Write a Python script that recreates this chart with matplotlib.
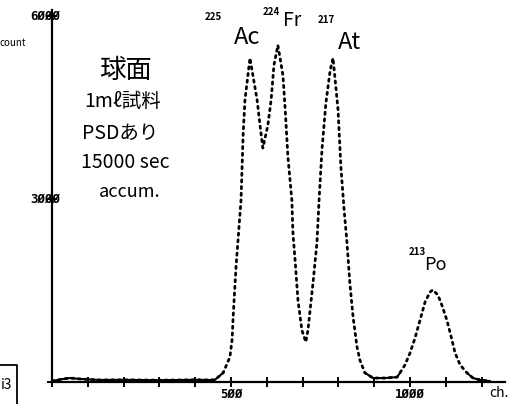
import numpy as np
import matplotlib
matplotlib.use("Agg")
import matplotlib.pyplot as plt

# ---- data (channel, counts) ----
channels = [0, 31, 50, 78, 134, 200, 300, 400, 441, 455, 478, 497, 503, 506, 514, 528, 534,
            539, 553, 573, 581, 589, 603, 612, 620, 631, 645, 651, 659, 670, 673, 679, 687,
            698, 709, 715, 729, 740, 746, 754, 765, 777, 785, 799, 807, 816, 824, 832, 841,
            852, 860, 874, 897, 930, 964, 972, 986, 1000, 1014, 1028, 1042, 1056, 1064, 1078,
            1089, 1103, 1115, 1126, 1140, 1159, 1176, 1196, 1223]
counts = [15, 50, 65, 50, 33, 35, 30, 35, 33, 35, 150, 410, 690, 1065, 1885, 2980, 4080,
          4620, 5310, 4620, 4210, 3835, 4210, 4620, 5195, 5520, 5030, 4505, 3690, 2980, 2440,
          2000, 1345, 850, 655, 850, 1620, 2280, 2980, 3800, 4570, 5110, 5310, 4460, 3520,
          2820, 2280, 1620, 1065, 575, 360, 150, 65, 65, 80, 150, 280, 475, 720, 1015, 1310,
          1475, 1510, 1425, 1260, 1015, 740, 475, 280, 150, 65, 33, 15]

x_tick_values = list(range(0, 1300, 100))
x_labels = {500: "5ØØ", 1000: "1ØØØ"}
y_tick_values = [0, 3000, 6000]
y_labels = {3000: "3ØØØ", 6000: "6ØØØ"}

# element label: (text, channel, counts, fontsize); mass number: (text, channel, counts)
elements = [("Ac", 545, 5640, 17), ("Fr", 670, 5930, 14), ("At", 830, 5570, 17), ("Po", 1070, 1920, 13)]
masses = [("225", 450, 5980), ("224", 612, 6064), ("217", 765, 5933), ("213", 1020, 2130)]
notes = ["球面", "1mℓ試料", "PSDあり", "15000 sec", "accum."]

W, H = 516, 404
fig = plt.figure(figsize=(W / 100, H / 100), dpi=100)
fig.patch.set_facecolor("white")
left_px, right_px, bottom_px, top_px = 52, 505, 382, 10
ax = fig.add_axes([left_px / W, 1 - bottom_px / H, (right_px - left_px) / W,
                   (bottom_px - top_px) / H])
ax.set_xlim(0, (right_px - left_px) / 0.358)
ax.set_ylim(0, (bottom_px - top_px) * 16.39)
ax.patch.set_alpha(0)
for s in ["top", "right"]:
    ax.spines[s].set_visible(False)
for s in ["left", "bottom"]:
    ax.spines[s].set_linewidth(1.6)
    ax.spines[s].set_color("black")

ax.set_xticks(x_tick_values)
ax.set_yticks(y_tick_values)
ax.tick_params(direction="inout", length=7, width=1.4, labelbottom=False, labelleft=False)

ch = np.array(channels, float)
ct = np.array(counts, float)
# dotted for the peaks, solid along the flat baseline
ax.plot(ch, ct, color="black", lw=2.0, ls=(0, (0.8, 1.6)), dash_capstyle="round")
flat = np.where(ct < 200, ct, np.nan)
ax.plot(ch, flat, color="black", lw=1.5)

mono = dict(family="DejaVu Sans Mono", fontweight="bold", color="black")
for v, lab in x_labels.items():
    ax.annotate(lab, (v, 0), xytext=(0, -9), textcoords="offset points",
                ha="center", va="center", fontsize=9, **mono)
for v, lab in y_labels.items():
    ax.annotate(lab, (0, v), xytext=(-5, 0), textcoords="offset points",
                ha="center", va="center", fontsize=9, **mono)

hand = ["Noto Sans CJK JP", "DejaVu Sans"]
ax.annotate("count", (0, 5556), xytext=(-28, 0), textcoords="offset points",
            ha="center", va="center", fontsize=7, family=hand)
ax.annotate("ch.", (1265, 0), xytext=(-4, -8), textcoords="offset points",
            ha="center", va="center", fontsize=10, family=hand)

for el, c, y, fs in elements:
    ax.text(c, y, el, ha="center", va="center", fontsize=fs, family=hand)
for m, c, y in masses:
    ax.text(c, y, m, ha="center", va="center", fontsize=7, family=hand, fontweight="bold")

note_x = [204, 196, 190, 204, 218]
note_y = [5110, 4590, 4080, 3590, 3115]
note_fs = [19, 14, 14, 14, 13]
for t, xx, yy, fs in zip(notes, note_x, note_y, note_fs):
    ax.text(xx, yy, t, ha="center", va="center", fontsize=fs, family=hand)

# cropped figure tag in lower-left corner
fig.lines.append(plt.Line2D([0, 17 / W, 17 / W], [1 - 365 / H, 1 - 365 / H, 0],
                            transform=fig.transFigure, color="black", lw=1.3))
fig.text(1 / W, 1 - 385 / H, "i3", ha="left", va="center", fontsize=10, family=hand)

fig.savefig("out.png", dpi=100, facecolor="white")
